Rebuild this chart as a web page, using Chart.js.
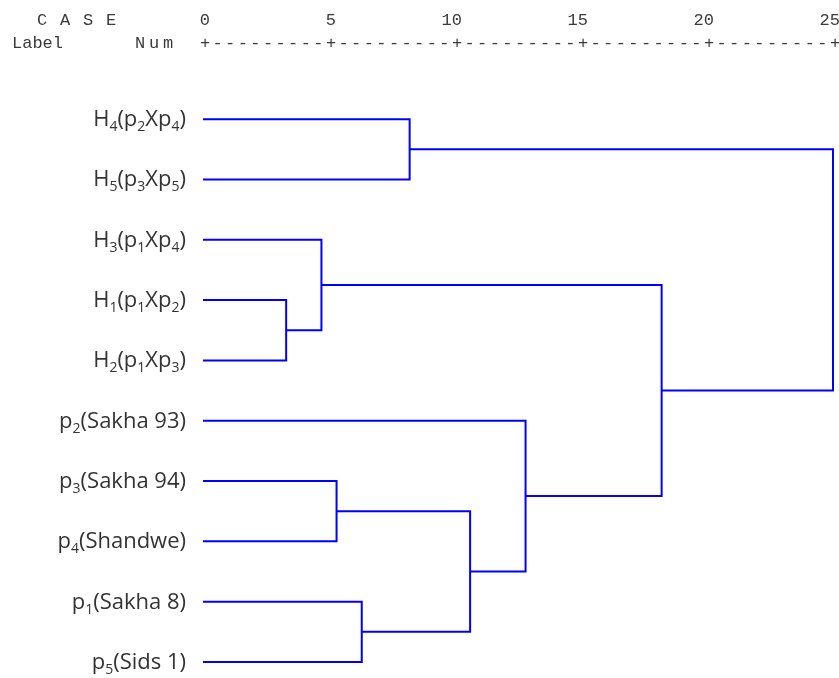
<!DOCTYPE html>
<html>
<head>
<meta charset="utf-8">
<script src="https://cdn.jsdelivr.net/npm/chart.js@4.4.1/dist/chart.umd.min.js"></script>
<style>
  html, body { margin: 0; padding: 0; background: #fff; }
  #wrap { width: 839px; height: 678px; position: relative; }
</style>
</head>
<body>
<div id="wrap"><canvas id="dendro"></canvas></div>
<script>
// leaves, top to bottom ("_n" marks a subscript digit)
const leafLabels = ["H_4(p_2Xp_4)", "H_5(p_3Xp_5)", "H_3(p_1Xp_4)", "H_1(p_1Xp_2)", "H_2(p_1Xp_3)",
  "p_2(Sakha 93)", "p_3(Sakha 94)", "p_4(Shandwe)", "p_1(Sakha 8)", "p_5(Sids 1)"];

// merge steps: ids 0-9 are the leaves, merge k creates node 10+k
const mergeLeft = [3, 2, 6, 8, 0, 12, 5, 11, 14];
const mergeRight = [4, 10, 7, 9, 1, 13, 15, 16, 17];
const mergeHeight = [3.3, 4.7, 5.3, 6.3, 8.2, 10.6, 12.8, 18.2, 25];

// rescaled distance ticks
const scaleTicks = [0, 5, 10, 15, 20, 25];

const LINE_COLOR = "#0000ff";

// build node positions + one bracket dataset per merge
const nodeX = leafLabels.map(() => 0);
const nodeY = leafLabels.map((_, i) => i + 1);
const datasets = [];
mergeHeight.forEach((h, k) => {
  const l = mergeLeft[k], r = mergeRight[k];
  datasets.push({
    data: [
      { x: nodeX[l], y: nodeY[l] },
      { x: h, y: nodeY[l] },
      { x: h, y: nodeY[r] },
      { x: nodeX[r], y: nodeY[r] }
    ],
    showLine: true,
    borderColor: LINE_COLOR,
    borderWidth: 2,
    borderJoinStyle: "miter",
    pointRadius: 0,
    tension: 0,
    clip: false
  });
  nodeX.push(h);
  nodeY.push((nodeY[l] + nodeY[r]) / 2);
});

// draws text one char at a time (mimics the SPSS fixed-width output)
function spaced(ctx, str, x, y, step) {
  for (let i = 0; i < str.length; i++) ctx.fillText(str[i], x + i * step, y);
}

const headerPlugin = {
  id: "spssHeader",
  afterDraw(chart) {
    const ctx = chart.ctx;
    const xs = chart.scales.x;
    ctx.save();
    ctx.font = '17px "Liberation Mono", monospace';
    ctx.fillStyle = "#3a3a3a";
    ctx.textBaseline = "middle";
    ctx.textAlign = "left";
    spaced(ctx, "C A S E", 37, 20, 11.5);
    spaced(ctx, "Label", 12, 43, 10.2);
    spaced(ctx, "Num", 135, 43, 14);

    ctx.textAlign = "right";
    scaleTicks.forEach(t => ctx.fillText(String(t), xs.getPixelForValue(t) + 7, 20));

    ctx.textAlign = "center";
    scaleTicks.forEach((t, i) => {
      const px = xs.getPixelForValue(t);
      ctx.fillText("+", px + 2, 43);
      if (i < scaleTicks.length - 1) {
        const next = xs.getPixelForValue(scaleTicks[i + 1]);
        const step = (next - px) / 10;
        for (let k = 1; k < 10; k++) ctx.fillText("-", px + 2 + k * step, 43);
      }
    });
    ctx.restore();
  }
};

const NORMAL_FONT = '22px "Open Sans", sans-serif';
const SUB_FONT = '14px "Open Sans", sans-serif';

function splitLabel(str) {
  const parts = [];
  let buf = "";
  for (let i = 0; i < str.length; i++) {
    if (str[i] === "_") {
      if (buf) parts.push({ t: buf, sub: false });
      buf = "";
      parts.push({ t: str[i + 1], sub: true });
      i++;
    } else buf += str[i];
  }
  if (buf) parts.push({ t: buf, sub: false });
  return parts;
}

const leafPlugin = {
  id: "leafLabels",
  afterDraw(chart) {
    const ctx = chart.ctx;
    const ys = chart.scales.y;
    ctx.save();
    ctx.fillStyle = "#333333";
    ctx.textBaseline = "alphabetic";
    ctx.textAlign = "left";
    leafLabels.forEach((lab, i) => {
      const parts = splitLabel(lab);
      let w = 0;
      parts.forEach(p => { ctx.font = p.sub ? SUB_FONT : NORMAL_FONT; w += ctx.measureText(p.t).width; });
      let x = 186 - w;
      const base = ys.getPixelForValue(i + 1) + 7;
      parts.forEach(p => {
        ctx.font = p.sub ? SUB_FONT : NORMAL_FONT;
        ctx.fillText(p.t, x, p.sub ? base + 5 : base);
        x += ctx.measureText(p.t).width;
      });
    });
    ctx.restore();
  }
};

new Chart(document.getElementById("dendro"), {
  type: "scatter",
  data: { datasets },
  options: {
    responsive: true,
    maintainAspectRatio: false,
    animation: false,
    layout: { padding: { left: 203, right: 6, top: 89, bottom: 4 } },
    plugins: { legend: { display: false }, tooltip: { enabled: false } },
    scales: {
      x: { type: "linear", min: 0, max: 25, display: false },
      y: { type: "linear", min: 0.5, max: 10.2, reverse: true, display: false }
    }
  },
  plugins: [headerPlugin, leafPlugin]
});
</script>
</body>
</html>
